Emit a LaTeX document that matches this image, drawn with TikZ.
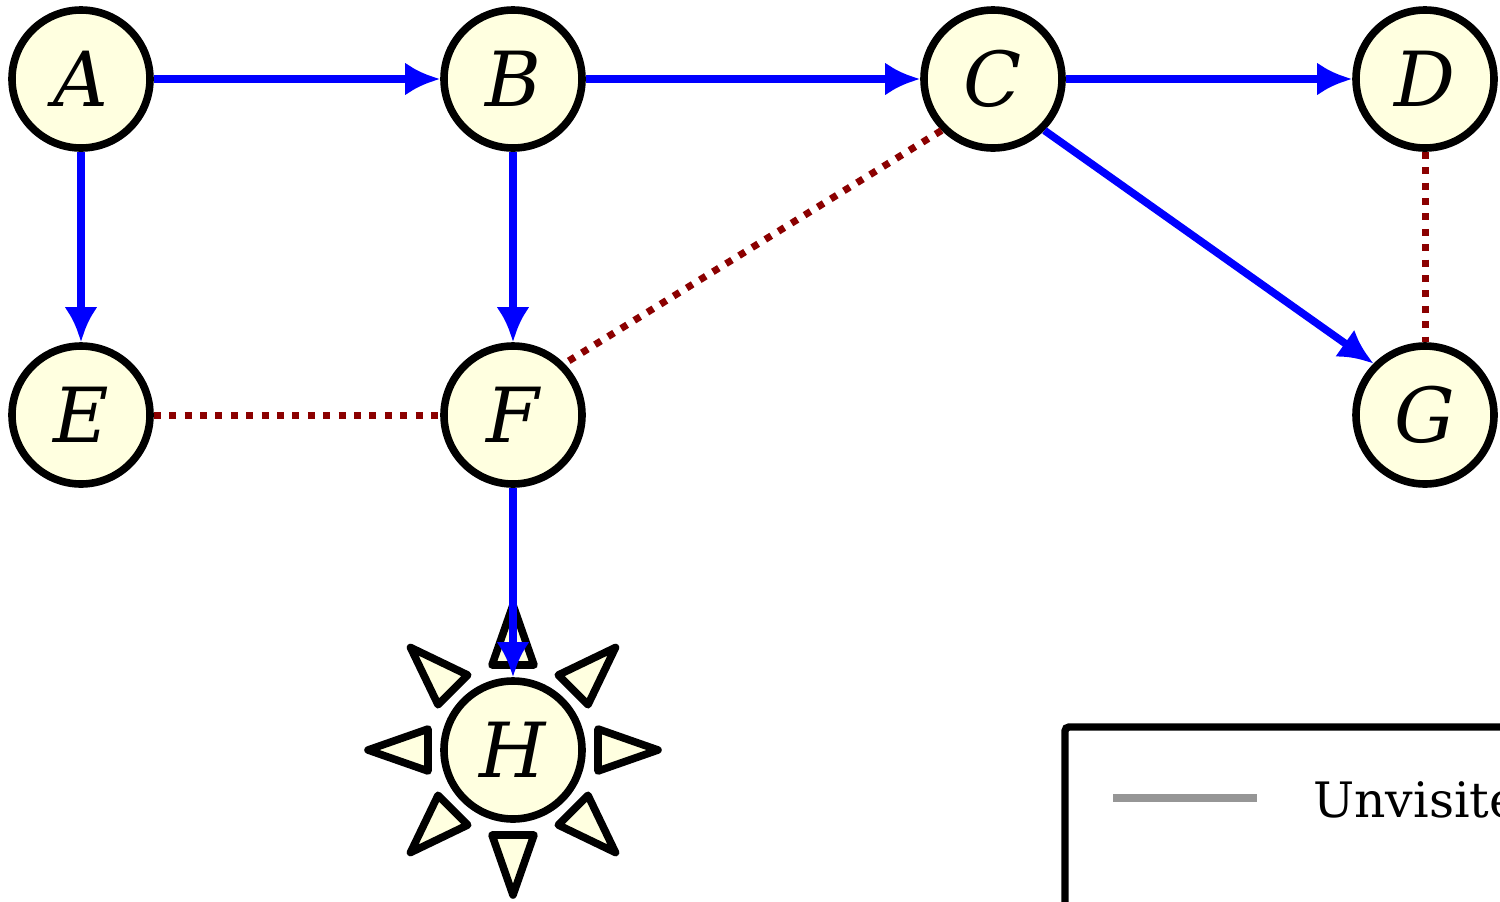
\documentclass[tikz,border=0pt]{standalone}
\usepackage{fontspec}
\setmainfont{DejaVu Serif}
\usetikzlibrary{arrows.meta,calc}
\definecolor{nodefill}{HTML}{FFFFE0}
\definecolor{edgeblue}{HTML}{0000FF}
\definecolor{dotred}{HTML}{8B0000}
\definecolor{legendgray}{RGB}{150,150,150}
\tikzset{
  gnode/.style={circle, draw=black, fill=nodefill, line width=3.8pt, minimum size=69pt, inner sep=0pt, font=\fontsize{38}{40}\selectfont\itshape},
  edge/.style={draw=edgeblue, line width=3.8pt, -{Latex[length=17.5pt,width=16.5pt]}},
  dotedge/.style={draw=dotred, line width=3.5pt, dash pattern=on 3.5pt off 4.2pt},
  ray/.style={draw=black, fill=nodefill, line width=3.8pt, line join=round},
}
\begin{document}
\begin{tikzpicture}[x=0.5pt,y=-0.5pt]
\useasboundingbox (0,0) rectangle (1500,901);
\clip (0,0) rectangle (1500,901);
% sun rays around H
\coordinate (hc) at (513,750);
\foreach \a in {0,45,...,315}{
  \draw[ray] ($(hc)+(\a:85)+(\a+90:21)$) -- ($(hc)+(\a:145)$) -- ($(hc)+(\a:85)+(\a-90:21)$) -- cycle;
}
\node[gnode] (A) at (81,79) {A};
\node[gnode] (B) at (513,79) {B};
\node[gnode] (C) at (993,79) {C};
\node[gnode] (D) at (1425,79) {D};
\node[gnode] (E) at (81,415) {E};
\node[gnode] (F) at (513,415) {F};
\node[gnode] (G) at (1425,415) {G};
\node[gnode] (H) at (hc) {H};
\draw[dotedge] (C.south west) -- (F.north east);
\draw[dotedge] (E) -- (F);
\draw[dotedge] (D) -- (G);
\draw[edge] (A) -- (B);
\draw[edge] (B) -- (C);
\draw[edge] (C) -- (D);
\draw[edge] (A) -- (E);
\draw[edge] (B) -- (F);
\draw[edge] (C.south east) -- (G.north west);
\draw[edge] (F) -- (H);
% legend
\node[draw=black, fill=white, line width=3.7pt, rounded corners=2pt, outer sep=0pt, minimum width=600pt, minimum height=200pt, anchor=north west] (legend) at (1065,727) {};
\coordinate (l1) at (1113,798);
\coordinate (l2) at (1257,798);
\draw[draw=legendgray, line width=3.6pt] (l1) -- (l2);
\node[anchor=base west, inner sep=0pt, font=\fontsize{24.4}{30}\selectfont] (ltext) at (1313,817) {Unvisited};
\end{tikzpicture}
\end{document}
